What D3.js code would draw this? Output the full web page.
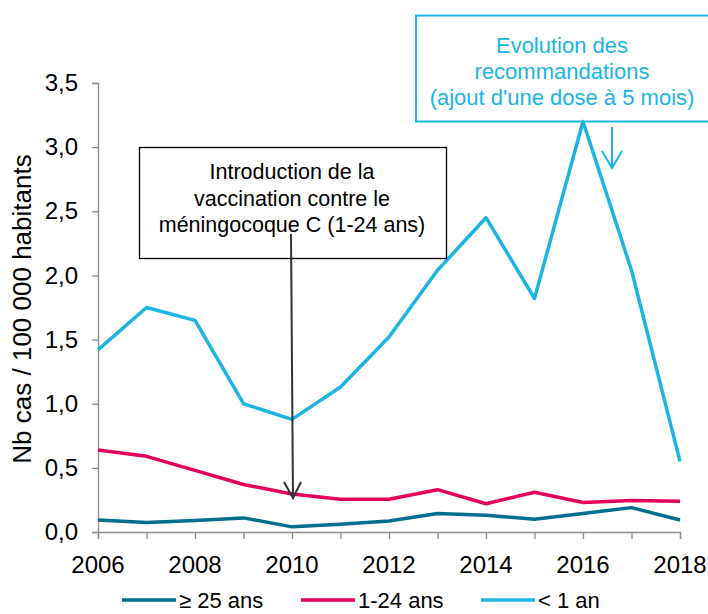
<!DOCTYPE html>
<html>
<head>
<meta charset="utf-8">
<script src="https://cdn.jsdelivr.net/npm/d3@7"></script>
<style>
  body { margin: 0; background: #fff; }
  text { font-family: "Liberation Sans", Arial, sans-serif; }
</style>
</head>
<body>
<div id="chart"></div>
<script>
const years = [2006, 2007, 2008, 2009, 2010, 2011, 2012, 2013, 2014, 2015, 2016, 2017, 2018];
const adults = [0.094, 0.075, 0.09, 0.11, 0.04, 0.06, 0.085, 0.145, 0.13, 0.10, 0.145, 0.19, 0.094];
const young = [0.64, 0.59, 0.48, 0.37, 0.296, 0.255, 0.255, 0.33, 0.22, 0.31, 0.23, 0.245, 0.24];
const infants = [1.42, 1.75, 1.65, 1.00, 0.878, 1.13, 1.52, 2.04, 2.45, 1.82, 3.2, 2.04, 0.55];
const yTicks = [0, 0.5, 1, 1.5, 2, 2.5, 3, 3.5];
const xTicks = [2006, 2008, 2010, 2012, 2014, 2016, 2018];

const series = [
  { name: "≥ 25 ans", values: adults, color: "#006f8e" },
  { name: "1-24 ans", values: young, color: "#e3005b" },
  { name: "< 1 an", values: infants, color: "#1cb4e3" }
];

const width = 708, height = 614;
const svg = d3.select("#chart").append("svg")
  .attr("width", width)
  .attr("height", height);

let x = d3.scaleLinear().domain([2006, 2018]).range([98, 680]);
let y = d3.scaleLinear().domain([0, 3.5]).range([532, 83]);
const fmt = d => d3.format(".1f")(d).replace(".", ",");

// y axis
let yAxis = svg.append("g")
  .attr("transform", "translate(98,0)")
  .call(d3.axisLeft(y).tickValues(yTicks).tickFormat(fmt).tickSize(6).tickPadding(14));
yAxis.select(".domain").attr("stroke", "#8c8c8c").attr("stroke-width", 1.3);
yAxis.selectAll(".tick line").attr("stroke", "#8c8c8c").attr("stroke-width", 1.3);
yAxis.selectAll("text").attr("font-size", 24).attr("fill", "#000")
  .style("font-family", "'Liberation Sans', Arial, sans-serif");

// x axis
let xAxis = svg.append("g")
  .attr("transform", "translate(0,532)")
  .call(d3.axisBottom(x).ticks(12).tickSize(7).tickFormat(""));
xAxis.select(".domain").attr("stroke", "#8c8c8c").attr("stroke-width", 1.3);
xAxis.selectAll(".tick line").attr("stroke", "#8c8c8c").attr("stroke-width", 1.3);

svg.append("g").selectAll("text")
  .data(xTicks).enter().append("text")
  .attr("x", d => x(d))
  .attr("y", 573)
  .attr("text-anchor", "middle")
  .attr("font-size", 24)
  .text(d => d);

// axis title
svg.append("text")
  .attr("transform", "translate(31,309) rotate(-90)")
  .attr("text-anchor", "middle")
  .attr("font-size", 26)
  .text("Nb cas / 100 000 habitants");

// lines
let line = d3.line()
  .x((d, i) => x(years[i]))
  .y(d => y(d));

series.forEach(s => {
  svg.append("path")
    .datum(s.values)
    .attr("d", line)
    .attr("fill", "none")
    .attr("stroke", s.color)
    .attr("stroke-width", 3.5)
    .attr("stroke-linejoin", "round");
});

// annotation: vaccination
svg.append("rect")
  .attr("x", 139.5).attr("y", 147.5)
  .attr("width", 307).attr("height", 111)
  .attr("fill", "#fff").attr("stroke", "#000").attr("stroke-width", 1.3);
const noteBlack = ["Introduction de la", "vaccination contre le", "méningocoque C (1-24 ans)"];
svg.append("g").selectAll("text")
  .data(noteBlack).enter().append("text")
  .attr("x", 292)
  .attr("y", (d, i) => 179 + i * 26.5)
  .attr("text-anchor", "middle")
  .attr("font-size", 21.5)
  .text(d => d);

const ax = x(2010);
svg.append("line")
  .attr("x1", ax - 1).attr("y1", 234)
  .attr("x2", ax + 1).attr("y2", 497)
  .attr("stroke", "#333").attr("stroke-width", 2);
svg.append("path")
  .attr("d", `M${ax - 8},${482} L${ax + 1},${498} L${ax + 9},${482}`)
  .attr("fill", "none").attr("stroke", "#333").attr("stroke-width", 2);

// annotation: recommandations
svg.append("rect")
  .attr("x", 416).attr("y", 15.5)
  .attr("width", 310).attr("height", 106)
  .attr("fill", "none").attr("stroke", "#1cb4e3").attr("stroke-width", 2);
const noteBlue = ["Evolution des", "recommandations", "(ajout d'une dose à 5 mois)"];
svg.append("g").selectAll("text")
  .data(noteBlue).enter().append("text")
  .attr("x", 562)
  .attr("y", (d, i) => 53 + i * 26)
  .attr("text-anchor", "middle")
  .attr("font-size", 22)
  .attr("fill", "#1cb4e3")
  .text(d => d);

const bx = 612;
svg.append("line")
  .attr("x1", bx).attr("y1", 127)
  .attr("x2", bx).attr("y2", 167)
  .attr("stroke", "#1cb4e3").attr("stroke-width", 2);
svg.append("path")
  .attr("d", `M${bx - 10},${151} L${bx},${168} L${bx + 10},${151}`)
  .attr("fill", "none").attr("stroke", "#1cb4e3").attr("stroke-width", 2);

// legend
const legendX = [122, 301, 481];
let legend = svg.append("g").selectAll("g")
  .data(series).enter().append("g")
  .attr("transform", (d, i) => `translate(${legendX[i]},600)`);
legend.append("line")
  .attr("x1", 0).attr("x2", 54)
  .attr("stroke", d => d.color).attr("stroke-width", 3.5);
legend.append("text")
  .attr("x", 57).attr("y", 7.5)
  .attr("font-size", 22)
  .text(d => d.name);
</script>
</body>
</html>
